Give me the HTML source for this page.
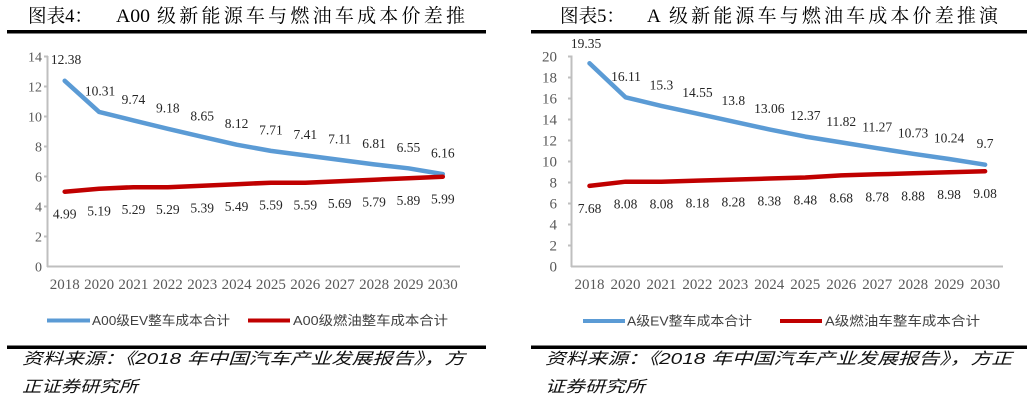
<!DOCTYPE html>
<html><head><meta charset="utf-8"><style>
html,body{margin:0;padding:0;background:#fff;}
svg{display:block;}
.t{font-family:"Liberation Serif","Noto Serif CJK SC",serif;font-size:19px;fill:#000;}
.ax{font-family:"Liberation Serif",serif;fill:#595959;}
.dl{font-family:"Liberation Serif",serif;font-size:13.5px;fill:#262626;text-anchor:middle;}
.lg{font-family:"Liberation Sans","Noto Sans CJK SC",sans-serif;font-size:13px;fill:#404040;}
.src{font-family:"Liberation Sans","Noto Sans CJK SC",sans-serif;font-size:16px;font-style:italic;fill:#111;}
</style></head><body>
<svg width="1030" height="405" viewBox="0 0 1030 405" xmlns="http://www.w3.org/2000/svg">
<rect width="1030" height="405" fill="#fff"/>
<!-- LEFT TITLE -->
<text class="t" x="28" y="22" textLength="65" lengthAdjust="spacingAndGlyphs">图表4：</text>
<text class="t" x="116" y="22" textLength="34" lengthAdjust="spacingAndGlyphs">A00</text>
<text class="t" x="157" y="22" textLength="308" lengthAdjust="spacing">级新能源车与燃油车成本价差推</text>
<rect x="7" y="30" width="479" height="3.5" fill="#000"/>
<!-- RIGHT TITLE -->
<text class="t" x="560" y="22" textLength="65" lengthAdjust="spacingAndGlyphs">图表5：</text>
<text class="t" x="647" y="22">A</text>
<text class="t" x="669" y="22" textLength="329" lengthAdjust="spacing">级新能源车与燃油车成本价差推演</text>
<rect x="531" y="30" width="496" height="3.5" fill="#000"/>

<!-- LEFT CHART AXES -->
<g stroke="#BFBFBF" stroke-width="2" fill="none">
<line x1="47.5" y1="56" x2="47.5" y2="267"/>
<line x1="47" y1="266.5" x2="460" y2="266.5"/>
<line x1="44" y1="56.5" x2="48" y2="56.5"/>
<line x1="44" y1="86.5" x2="48" y2="86.5"/>
<line x1="44" y1="116.5" x2="48" y2="116.5"/>
<line x1="44" y1="146.5" x2="48" y2="146.5"/>
<line x1="44" y1="176.5" x2="48" y2="176.5"/>
<line x1="44" y1="206.5" x2="48" y2="206.5"/>
<line x1="44" y1="236.5" x2="48" y2="236.5"/>
</g>
<g class="ax" font-size="14" text-anchor="end">
<text x="42" y="61.5">14</text>
<text x="42" y="91.5">12</text>
<text x="42" y="121.5">10</text>
<text x="42" y="151.5">8</text>
<text x="42" y="181.5">6</text>
<text x="42" y="211.5">4</text>
<text x="42" y="241.5">2</text>
<text x="42" y="271.5">0</text>
</g>
<g class="ax" font-size="15" text-anchor="middle">
<text x="64.7" y="289">2018</text>
<text x="99.1" y="289">2020</text>
<text x="133.4" y="289">2021</text>
<text x="167.8" y="289">2022</text>
<text x="202.2" y="289">2023</text>
<text x="236.6" y="289">2024</text>
<text x="270.9" y="289">2025</text>
<text x="305.3" y="289">2026</text>
<text x="339.7" y="289">2027</text>
<text x="374.1" y="289">2028</text>
<text x="408.4" y="289">2029</text>
<text x="442.8" y="289">2030</text>
</g>
<polyline fill="none" stroke="#5B9BD5" stroke-width="4.5" stroke-linejoin="round" stroke-linecap="round"
points="64.7,80.8 99.1,111.9 133.4,120.4 167.8,128.8 202.2,136.8 236.6,144.7 270.9,150.9 305.3,155.4 339.7,159.9 374.1,164.4 408.4,168.3 442.8,174.1"/>
<polyline fill="none" stroke="#C00000" stroke-width="4.5" stroke-linejoin="round" stroke-linecap="round"
points="64.7,191.7 99.1,188.7 133.4,187.2 167.8,187.2 202.2,185.7 236.6,184.2 270.9,182.7 305.3,182.7 339.7,181.2 374.1,179.7 408.4,178.2 442.8,176.7"/>
<g class="dl">
<text x="66" y="64">12.38</text>
<text x="100" y="95.4">10.31</text>
<text x="133.4" y="103.9">9.74</text>
<text x="167.8" y="112.3">9.18</text>
<text x="202.2" y="120.3">8.65</text>
<text x="236.6" y="128.2">8.12</text>
<text x="270.9" y="134.4">7.71</text>
<text x="305.3" y="138.9">7.41</text>
<text x="339.7" y="143.4">7.11</text>
<text x="374.1" y="147.9">6.81</text>
<text x="408.4" y="151.8">6.55</text>
<text x="442.8" y="157.6">6.16</text>
<text x="64.7" y="218.7">4.99</text>
<text x="99.1" y="215.7">5.19</text>
<text x="133.4" y="214.2">5.29</text>
<text x="167.8" y="214.2">5.29</text>
<text x="202.2" y="212.7">5.39</text>
<text x="236.6" y="211.2">5.49</text>
<text x="270.9" y="209.7">5.59</text>
<text x="305.3" y="209.7">5.59</text>
<text x="339.7" y="208.2">5.69</text>
<text x="374.1" y="206.7">5.79</text>
<text x="408.4" y="205.2">5.89</text>
<text x="442.8" y="203.7">5.99</text>
</g>
<!-- LEFT LEGEND -->
<line x1="47" y1="320.5" x2="90" y2="320.5" stroke="#5B9BD5" stroke-width="4"/>
<text class="lg" x="92" y="325" textLength="138" lengthAdjust="spacingAndGlyphs">A00级EV整车成本合计</text>
<line x1="248" y1="320.5" x2="290" y2="320.5" stroke="#C00000" stroke-width="4"/>
<text class="lg" x="293" y="325" textLength="155" lengthAdjust="spacingAndGlyphs">A00级燃油整车成本合计</text>
<rect x="7" y="345.5" width="479" height="3.5" fill="#000"/>
<text class="src" x="22" y="364" textLength="443" lengthAdjust="spacingAndGlyphs">资料来源：《2018 年中国汽车产业发展报告》，方</text>
<text class="src" x="22" y="392" textLength="116" lengthAdjust="spacingAndGlyphs">正证券研究所</text>

<!-- RIGHT CHART AXES -->
<g stroke="#BFBFBF" stroke-width="2" fill="none">
<line x1="571.5" y1="55.5" x2="571.5" y2="267"/>
<line x1="571" y1="266.5" x2="1003" y2="266.5"/>
<line x1="568" y1="56.5" x2="572" y2="56.5"/>
<line x1="568" y1="77.5" x2="572" y2="77.5"/>
<line x1="568" y1="98.5" x2="572" y2="98.5"/>
<line x1="568" y1="119.5" x2="572" y2="119.5"/>
<line x1="568" y1="140.5" x2="572" y2="140.5"/>
<line x1="568" y1="161.5" x2="572" y2="161.5"/>
<line x1="568" y1="182.5" x2="572" y2="182.5"/>
<line x1="568" y1="203.5" x2="572" y2="203.5"/>
<line x1="568" y1="224.5" x2="572" y2="224.5"/>
<line x1="568" y1="245.5" x2="572" y2="245.5"/>
</g>
<g class="ax" font-size="15" text-anchor="end">
<text x="557" y="61.5">20</text>
<text x="557" y="82.5">18</text>
<text x="557" y="103.5">16</text>
<text x="557" y="124.5">14</text>
<text x="557" y="145.5">12</text>
<text x="557" y="166.5">10</text>
<text x="557" y="187.5">8</text>
<text x="557" y="208.5">6</text>
<text x="557" y="229.5">4</text>
<text x="557" y="250.5">2</text>
<text x="557" y="271.5">0</text>
</g>
<g class="ax" font-size="15" text-anchor="middle">
<text x="589.5" y="289">2018</text>
<text x="625.5" y="289">2020</text>
<text x="661.4" y="289">2021</text>
<text x="697.4" y="289">2022</text>
<text x="733.3" y="289">2023</text>
<text x="769.3" y="289">2024</text>
<text x="805.3" y="289">2025</text>
<text x="841.2" y="289">2026</text>
<text x="877.2" y="289">2027</text>
<text x="913.1" y="289">2028</text>
<text x="949.1" y="289">2029</text>
<text x="985.1" y="289">2030</text>
</g>
<polyline fill="none" stroke="#5B9BD5" stroke-width="4.5" stroke-linejoin="round" stroke-linecap="round"
points="589.5,63.3 625.5,97.3 661.4,105.9 697.4,113.7 733.3,121.6 769.3,129.4 805.3,136.6 841.2,142.4 877.2,148.2 913.1,153.8 949.1,159 985.1,164.7"/>
<polyline fill="none" stroke="#C00000" stroke-width="4.5" stroke-linejoin="round" stroke-linecap="round"
points="589.5,185.9 625.5,181.7 661.4,181.7 697.4,180.6 733.3,179.6 769.3,178.5 805.3,177.5 841.2,175.4 877.2,174.3 913.1,173.3 949.1,172.2 985.1,171.2"/>
<g class="dl" font-size="14">
<text x="586" y="48">19.35</text>
<text x="626" y="81">16.11</text>
<text x="661.4" y="89.4">15.3</text>
<text x="697.4" y="97.2">14.55</text>
<text x="733.3" y="105.1">13.8</text>
<text x="769.3" y="112.9">13.06</text>
<text x="805.3" y="120.1">12.37</text>
<text x="841.2" y="125.9">11.82</text>
<text x="877.2" y="131.7">11.27</text>
<text x="913.1" y="137.3">10.73</text>
<text x="949.1" y="142.5">10.24</text>
<text x="985.1" y="148.2">9.7</text>
<text x="589.5" y="212.9">7.68</text>
<text x="625.5" y="208.7">8.08</text>
<text x="661.4" y="208.7">8.08</text>
<text x="697.4" y="207.6">8.18</text>
<text x="733.3" y="206.6">8.28</text>
<text x="769.3" y="205.5">8.38</text>
<text x="805.3" y="204.5">8.48</text>
<text x="841.2" y="202.4">8.68</text>
<text x="877.2" y="201.3">8.78</text>
<text x="913.1" y="200.3">8.88</text>
<text x="949.1" y="199.2">8.98</text>
<text x="985.1" y="198.2">9.08</text>
</g>
<!-- RIGHT LEGEND -->
<line x1="583" y1="321" x2="625" y2="321" stroke="#5B9BD5" stroke-width="4"/>
<text class="lg" x="627" y="325.5" textLength="125" lengthAdjust="spacingAndGlyphs">A级EV整车成本合计</text>
<line x1="780" y1="321" x2="822" y2="321" stroke="#C00000" stroke-width="4"/>
<text class="lg" x="825" y="325.5" textLength="155" lengthAdjust="spacingAndGlyphs">A级燃油车整车成本合计</text>
<rect x="531" y="345.5" width="496" height="3.5" fill="#000"/>
<text class="src" x="545" y="364" textLength="467" lengthAdjust="spacingAndGlyphs">资料来源：《2018 年中国汽车产业发展报告》，方正</text>
<text class="src" x="545" y="392" textLength="100" lengthAdjust="spacingAndGlyphs">证券研究所</text>
</svg>
</body></html>
